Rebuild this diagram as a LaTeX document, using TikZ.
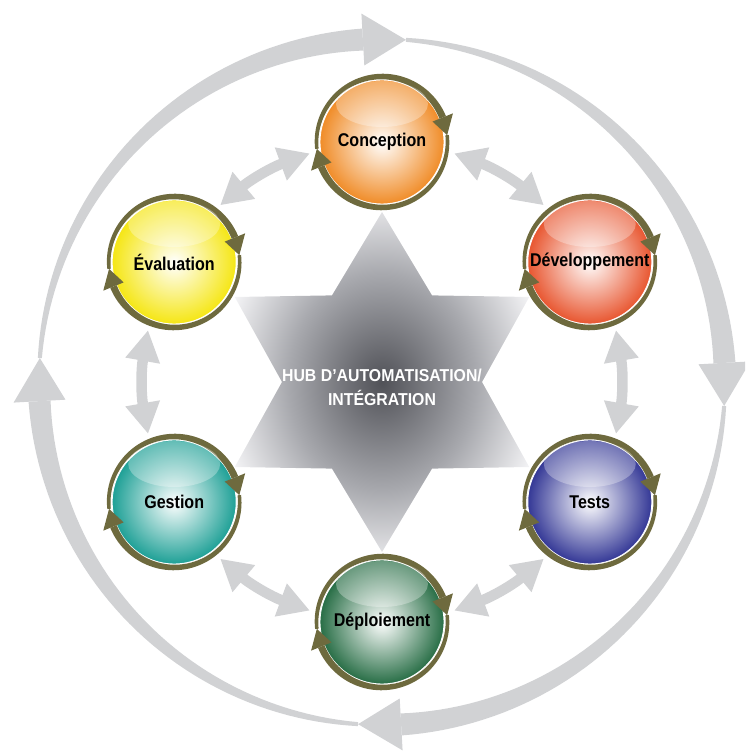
\documentclass[tikz,border=0pt]{standalone}
\usepackage{fontspec}
\setmainfont{Liberation Sans}
\newfontfamily\labelfont[FakeStretch=0.87]{Liberation Sans}
\newfontfamily\hubfont[FakeStretch=0.92]{Liberation Sans}
\usetikzlibrary{arrows.meta,calc}

\definecolor{ringgray}{RGB}{209,210,212}
\definecolor{curlolive}{RGB}{110,106,62}
\definecolor{hubdark}{RGB}{80,81,87}
\definecolor{hubmid}{RGB}{168,169,174}
\definecolor{hublight}{RGB}{244,244,246}
\definecolor{concol}{RGB}{240,140,40}
\definecolor{devcol}{RGB}{232,86,48}
\definecolor{testcol}{RGB}{52,56,150}
\definecolor{deplcol}{RGB}{40,110,70}
\definecolor{gestcol}{RGB}{30,160,150}
\definecolor{evalcol}{RGB}{245,230,20}

\pgfdeclareradialshading{hubshade}{\pgfpoint{0bp}{0bp}}{color(0bp)=(hubdark); color(16bp)=(hubmid); color(28bp)=(hublight); color(50bp)=(hublight)}

% tapered arc with a head: radius, from, base, tip, start width, end width, head half width
\newcommand{\curlarrow}[7]{%
  \fill plot[domain=#2:#3, samples=50] (\x:{#1+((#5)+((#6)-(#5))*(\x-(#2))/((#3)-(#2)))/2})
    -- plot[domain=#3:#2, samples=50] (\x:{#1-((#5)+((#6)-(#5))*(\x-(#2))/((#3)-(#2)))/2}) -- cycle;
  \fill (#3:{#1+#7}) -- (#4:#1) -- (#3:{#1-#7}) -- cycle;}

\begin{document}
\begin{tikzpicture}[x=0.02cm, y=0.02cm,
    sphere/.style={circle, minimum size=2.48cm, inner sep=0pt, outer sep=0.22cm, shade, inner color=white, outer color=#1, draw=white, line width=0.5pt, font=\labelfont\bfseries\fontsize{10.5}{12}\selectfont},
    link/.style={draw=ringgray, line width=0.21cm, {Triangle[length=0.62cm, width=0.66cm]}-{Triangle[length=0.62cm, width=0.66cm]}, bend right=10},
    gloss/.style={fill=white, fill opacity=0.3}
]
    \clip (0,0) rectangle (745,751);
    \coordinate (hub) at (382,369);

    % Star
    \begin{scope}[shift={(hub)}]
        \shade[shading=hubshade] (90:170) -- (60:100) -- (30:170) -- (0:100) -- (-30:170) -- (-60:100)
            -- (-90:170) -- (-120:100) -- (-150:170) -- (180:100) -- (150:170) -- (120:100) -- cycle;
    \end{scope}

    % Outer cycle
    \begin{scope}[shift={(hub)}, fill=ringgray]
        \foreach \t in {86,-4,-94,-184} {
            \curlarrow{343}{\t}{\t-82.8}{\t-90}{4}{22}{26}
        }
    \end{scope}

    % Phases
    \node[sphere=concol] (conc) at (382,609) {Conception};
    \node[sphere=devcol] (dev) at (589.8,489) {Développement};
    \node[sphere=testcol] (tests) at (589.8,249) {Tests};
    \node[sphere=deplcol] (depl) at (382,129) {Déploiement};
    \node[sphere=gestcol] (gest) at (174.2,249) {Gestion};
    \node[sphere=evalcol] (eval) at (174.2,489) {Évaluation};

    % Curl arrows and gloss
    \foreach \n in {conc,dev,tests,depl,gest,eval} {
        \begin{scope}[shift={(\n.center)}, fill=curlolive]
            \curlarrow{65.5}{186}{22}{6}{3.5}{7}{11}
            \curlarrow{65.5}{6}{-158}{-174}{3.5}{7}{11}
        \end{scope}
        \fill[gloss] ([yshift=0.76cm]\n.center) ellipse (0.92cm and 0.46cm);
    }

    % Links
    \draw[link] (conc.189) to (eval.51);
    \draw[link] (eval.249) to (gest.111);
    \draw[link] (gest.309) to (depl.171);
    \draw[link] (depl.9) to (tests.231);
    \draw[link] (tests.69) to (dev.291);
    \draw[link] (dev.129) to (conc.351);

    % Hub label
    \node[font=\hubfont\bfseries\fontsize{9.8}{13.6}\selectfont, text=white, align=center] (hubtext) at (382,364) {HUB D’AUTOMATISATION/\\INTÉGRATION};
\end{tikzpicture}
\end{document}
